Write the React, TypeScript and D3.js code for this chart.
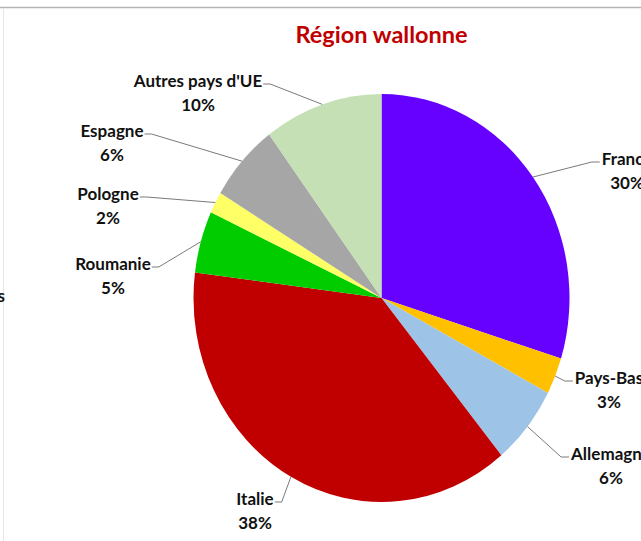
import React, { useEffect, useRef } from 'react';
import * as d3 from 'd3';

// valeurs (parts en %)
const countries = ['France', 'Pays-Bas', 'Allemagne', 'Italie', 'Roumanie', 'Pologne', 'Espagne', "Autres pays d'UE"];
const shares = [29.8, 2.9, 6.3, 38.0, 4.9, 1.7, 6.2, 10.2];
const pctLabels = ['30%', '3%', '6%', '38%', '5%', '2%', '6%', '10%'];
const colors = ['#6600FF', '#FFC000', '#9DC3E6', '#C00000', '#00CC00', '#FFFF66', '#A6A6A6', '#C5E0B4'];

// placement des étiquettes (centre du texte, côté d'accroche)
const labelPos = [
    { x: 627, y: 158, side: 'right' },
    { x: 609, y: 377, side: 'right' },
    { x: 611, y: 453, side: 'right' },
    { x: 255, y: 498, side: 'left' },
    { x: 113, y: 263, side: 'left' },
    { x: 108, y: 193, side: 'left' },
    { x: 112, y: 130, side: 'left' },
    { x: 198, y: 80, side: 'left' },
];

export default function App() {
    const ref = useRef<SVGSVGElement>(null);
    const width = 641;
    const height = 541;
    const cx = 381.5;
    const cy = 298;
    const radius = 188;
    const ky = 204 / 188;

    useEffect(() => {
        const svg = d3.select(ref.current);
        svg.selectAll('*').remove();

        // cadre du graphique
        svg.append('line')
            .attr('x1', 0).attr('x2', width).attr('y1', 7.5).attr('y2', 7.5)
            .attr('stroke', '#b5b5b5').attr('stroke-width', 1.5);
        svg.append('line')
            .attr('x1', 3.5).attr('x2', 3.5).attr('y1', 8).attr('y2', height)
            .attr('stroke', '#e6e6e6').attr('stroke-width', 1);

        svg.append('text')
            .attr('x', 5).attr('y', 302)
            .attr('text-anchor', 'end')
            .attr('font-family', 'Lato, sans-serif').attr('font-weight', 700).attr('font-size', 17)
            .attr('fill', '#111')
            .text('s');

        svg.append('text')
            .attr('x', cx).attr('y', 34)
            .attr('text-anchor', 'middle')
            .attr('dominant-baseline', 'central')
            .attr('font-family', 'Lato, sans-serif').attr('font-weight', 700).attr('font-size', 23.5)
            .attr('fill', '#C00000')
            .text('Région wallonne');

        const data = countries.map((c, i) => ({ name: c, value: shares[i], pct: pctLabels[i], color: colors[i], pos: labelPos[i] }));
        const pie = d3.pie<any>().sort(null).value(d => d.value);
        const arcs = pie(data);
        const arc = d3.arc<any>().innerRadius(0).outerRadius(radius);

        const g = svg.append('g')
            .attr('transform', `translate(${cx},${cy}) scale(1,${ky})`);
        g.selectAll('path')
            .data(arcs)
            .join('path')
            .attr('d', arc)
            .attr('fill', d => d.data.color);

        const labels = svg.append('g')
            .attr('font-family', 'Lato, sans-serif')
            .attr('font-weight', 700)
            .attr('font-size', 17)
            .attr('fill', '#111')
            .attr('text-anchor', 'middle');

        arcs.forEach(a => {
            const p = a.data.pos;
            const t = labels.append('text')
                .attr('x', p.x).attr('y', p.y)
                .attr('dominant-baseline', 'central')
                .text(a.data.name);
            labels.append('text')
                .attr('x', p.x).attr('y', p.y + 24)
                .attr('dominant-baseline', 'central')
                .text(a.data.pct);

            const w = (t.node() as SVGTextElement).getComputedTextLength();
            const mid = (a.startAngle + a.endAngle) / 2;
            const ax = cx + radius * Math.sin(mid);
            const ay = cy - radius * ky * Math.cos(mid);
            const ly = p.y + 4;
            const tx = p.side === 'left' ? p.x + w / 2 + 1 : p.x - w / 2 - 2;
            const ex = p.side === 'left' ? tx + 7 : tx - 8;
            svg.append('path')
                .attr('d', d3.line()([[ax, ay], [ex, ly], [tx, ly]]))
                .attr('fill', 'none')
                .attr('stroke', '#7a7a7a')
                .attr('stroke-width', 1);
        });
    }, []);

    return (
        <svg ref={ref} width={width} height={height}
            style={{ position: 'absolute', left: 0, top: 0, background: '#fff' }} />
    );
}
